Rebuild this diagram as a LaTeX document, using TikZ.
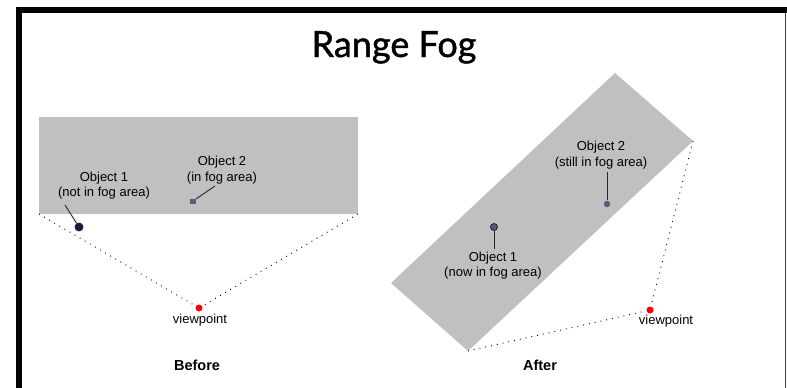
\documentclass[tikz,border=0pt]{standalone}
\usepackage{fontspec}
\setmainfont{Liberation Sans}
\newfontfamily\titlefont[FakeBold=1.2]{Lato}
\usetikzlibrary{positioning}
\definecolor{fog}{HTML}{C0C0C0}
\definecolor{objgray}{HTML}{5C5C7A}
\definecolor{objdark}{HTML}{1C1C38}
\tikzset{
    sight/.style = {dash pattern=on 0.9pt off 5pt, line width=0.9pt},
    pointer/.style = {line width=0.9pt, black!85},
    lbl/.style = {font=\fontsize{13}{15.5}\selectfont, align=center, inner sep=0pt},
    caption/.style = {font=\fontsize{14.5}{16}\selectfont\bfseries, inner sep=0pt},
    eye/.style = {circle, fill=red, inner sep=0pt, minimum size=7pt},
    obj/.style = {circle, fill=objgray, draw=objdark, line width=0.8pt, inner sep=0pt, minimum size=7pt}
}

\begin{document}
\begin{tikzpicture}[x=1pt, y=-1pt]
    \useasboundingbox (0,0) rectangle (787,388);
    \fill[white] (0,0) rectangle (787,388);
    \draw[line width=6pt] (19,388) -- (19,10) -- (787,10);
    \draw[line width=1.5pt, black!75] (785.5,13) -- (785.5,388);

    \node[font=\titlefont\fontsize{36}{40}\selectfont, anchor=base, inner sep=0pt] (title) at (394,57) {Range Fog};

    % before
    \coordinate (bTL) at (39,117);
    \coordinate (bBR) at (358,214);
    \coordinate (bBL) at (39,214);
    \fill[fog] (bTL) rectangle (bBR);
    \node[eye] (bView) at (199,308) {};
    \draw[sight] (bBL) -- (bView);
    \draw[sight] (bBR) -- (bView);
    \node[lbl, anchor=north] (bViewLbl) at (200,314) {viewpoint};

    \node[obj, fill=objdark, minimum size=8pt] (bObj1) at (79,227) {};
    \node[lbl] (bObj1Lbl) at (104,185.5) {Object 1\\(not in fog area)};
    \coordinate (bObj1Tip) at (65,205);
    \draw[pointer] (bObj1Tip) -- (bObj1);

    \node[rectangle, fill=objgray, inner sep=0pt, minimum width=6pt, minimum height=5pt] (bObj2) at (193,201) {};
    \node[lbl] (bObj2Lbl) at (222,170) {Object 2\\(in fog area)};
    \coordinate (bObj2Tip) at (215,186);
    \draw[pointer] (bObj2) -- (bObj2Tip);

    \node[caption] (before) at (197,365) {Before};

    % after
    \coordinate (aTop) at (615,73);
    \coordinate (aRight) at (693,141);
    \coordinate (aBottom) at (468,351);
    \coordinate (aLeft) at (391,283);
    \fill[fog] (aTop) -- (aRight) -- (aBottom) -- (aLeft) -- cycle;
    \node[eye] (aView) at (650,310) {};
    \draw[sight] (aRight) -- (aView);
    \draw[sight] (aBottom) -- (aView);
    \node[lbl, anchor=north] (aViewLbl) at (666,315) {viewpoint};

    \node[obj] (aObj1) at (494,227) {};
    \node[lbl] (aObj1Lbl) at (493,265.5) {Object 1\\(now in fog area)};
    \coordinate (aObj1Tip) at (494,249);
    \draw[pointer] (aObj1) -- (aObj1Tip);

    \node[obj, draw=none, minimum size=6.5pt] (aObj2) at (607,204) {};
    \node[lbl] (aObj2Lbl) at (601,155) {Object 2\\(still in fog area)};
    \coordinate (aObj2Tip) at (607,172);
    \draw[pointer] (aObj2) -- (aObj2Tip);

    \node[caption] (after) at (540,365) {After};
\end{tikzpicture}
\end{document}
